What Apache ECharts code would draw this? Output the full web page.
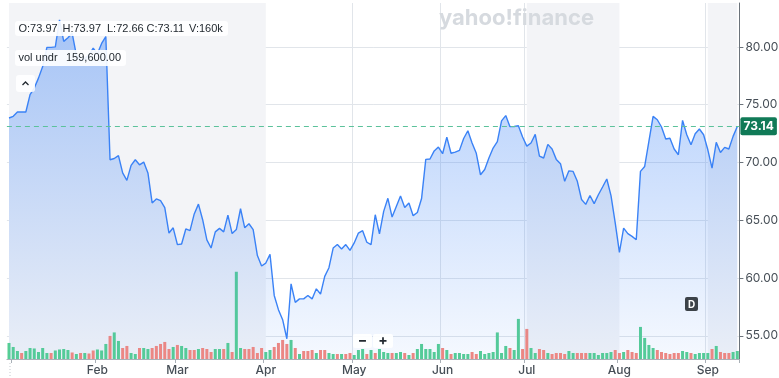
<!DOCTYPE html>
<html>
<head>
<meta charset="utf-8">
<script src="https://cdn.jsdelivr.net/npm/echarts@6/dist/echarts.min.js"></script>
<style>
  html, body { margin: 0; padding: 0; background: #fff; }
  #chart { width: 779px; height: 378px; }
</style>
</head>
<body>
<div id="chart"></div>
<script>
// trading days shown on the chart
const dates = [
  '2024-12-31',
  '2025-01-02','2025-01-03','2025-01-06','2025-01-07','2025-01-08','2025-01-10','2025-01-13','2025-01-14','2025-01-15','2025-01-16',
  '2025-01-17','2025-01-21','2025-01-22','2025-01-23','2025-01-24','2025-01-27','2025-01-28','2025-01-29','2025-01-30','2025-01-31',
  '2025-02-03','2025-02-04','2025-02-05','2025-02-06','2025-02-07','2025-02-10','2025-02-11','2025-02-12','2025-02-13','2025-02-14',
  '2025-02-18','2025-02-19','2025-02-20','2025-02-21','2025-02-24','2025-02-25','2025-02-26','2025-02-27','2025-02-28',
  '2025-03-03','2025-03-04','2025-03-05','2025-03-06','2025-03-07','2025-03-10','2025-03-11','2025-03-12','2025-03-13','2025-03-14',
  '2025-03-17','2025-03-18','2025-03-19','2025-03-20','2025-03-21','2025-03-24','2025-03-25','2025-03-26','2025-03-27','2025-03-28','2025-03-31',
  '2025-04-01','2025-04-02','2025-04-03','2025-04-04','2025-04-07','2025-04-08','2025-04-09','2025-04-10','2025-04-11','2025-04-14',
  '2025-04-15','2025-04-16','2025-04-17','2025-04-21','2025-04-22','2025-04-23','2025-04-24','2025-04-25','2025-04-28','2025-04-29','2025-04-30',
  '2025-05-01','2025-05-02','2025-05-05','2025-05-06','2025-05-07','2025-05-08','2025-05-09','2025-05-12','2025-05-13','2025-05-14',
  '2025-05-15','2025-05-16','2025-05-19','2025-05-20','2025-05-21','2025-05-22','2025-05-23','2025-05-27','2025-05-28','2025-05-29','2025-05-30',
  '2025-06-02','2025-06-03','2025-06-04','2025-06-05','2025-06-06','2025-06-09','2025-06-10','2025-06-11','2025-06-12','2025-06-13',
  '2025-06-16','2025-06-17','2025-06-18','2025-06-20','2025-06-23','2025-06-24','2025-06-25','2025-06-26','2025-06-27','2025-06-30',
  '2025-07-01','2025-07-02','2025-07-03','2025-07-07','2025-07-08','2025-07-09','2025-07-10','2025-07-11','2025-07-14','2025-07-15',
  '2025-07-16','2025-07-17','2025-07-18','2025-07-21','2025-07-22','2025-07-23','2025-07-24','2025-07-25','2025-07-28','2025-07-29','2025-07-30','2025-07-31',
  '2025-08-01','2025-08-04','2025-08-05','2025-08-06','2025-08-07','2025-08-08','2025-08-11','2025-08-12','2025-08-13','2025-08-14',
  '2025-08-15','2025-08-18','2025-08-19','2025-08-20','2025-08-21','2025-08-22','2025-08-25','2025-08-26','2025-08-27','2025-08-28','2025-08-29',
  '2025-09-02','2025-09-03','2025-09-04','2025-09-05','2025-09-08','2025-09-09','2025-09-10','2025-09-11'
];

// daily close
const closes = [
  73.85,
  74.00, 74.37, 74.37, 74.37, 75.87, 76.44, 77.30, 78.30, 79.96, 79.96,
  80.00, 82.35, 80.48, 80.80, 81.20, 79.30, 78.80, 79.00, 79.30, 79.90,
  79.40, 80.30, 80.90, 70.24, 70.35, 70.60, 69.10, 68.45, 69.75, 70.24,
  69.80, 70.04, 69.10, 66.50, 66.85, 66.70, 66.10, 63.90, 64.35,
  62.90, 62.95, 64.25, 64.10, 65.55, 66.40, 65.05, 63.30, 62.60, 64.00,
  64.30, 64.00, 65.45, 63.85, 64.20, 66.00, 64.35, 64.70, 64.20, 61.95, 61.05,
  61.30, 62.05, 58.50, 57.27, 56.40, 54.75, 59.50, 57.90, 58.20, 58.20,
  58.50, 58.20, 59.07, 58.62, 60.15, 60.90, 62.60, 62.90, 62.52, 62.90, 62.40,
  63.04, 63.90, 64.10, 63.10, 62.90, 65.48, 63.82, 65.77, 66.90, 65.28,
  66.20, 67.10, 66.10, 66.50, 65.40, 65.68, 66.88, 70.27, 70.30, 71.00, 71.34,
  70.76, 72.20, 70.80, 70.90, 71.05, 72.08, 72.75, 71.69, 70.80, 68.94,
  69.40, 70.39, 71.25, 71.80, 73.60, 74.06, 73.10, 73.12, 73.18, 72.20,
  71.42, 71.69, 72.43, 70.56, 70.39, 71.57, 71.17, 70.27, 69.90, 68.37,
  69.28, 69.23, 68.37, 66.80, 66.38, 67.15, 66.44, 67.21, 67.88, 68.57, 67.13, 64.77,
  62.22, 64.33, 63.84, 63.61, 63.32, 69.23, 69.66, 71.83, 73.99, 73.70,
  73.07, 72.03, 72.10, 71.17, 70.67, 73.64, 72.40, 71.54, 72.49, 72.90, 72.40,
  71.10, 69.52, 71.74, 70.87, 71.31, 71.17, 72.26, 73.12
];

// daily volume, thousands of shares
const volumes = [
  320,
  240, 160, 120, 160, 220, 210, 140, 220, 120, 120,
  170, 190, 200, 180, 130, 100, 120, 120, 110, 170,
  190, 170, 300, 460, 530, 360, 220, 260, 120, 100,
  220, 220, 200, 220, 260, 300, 340, 200, 240,
  280, 260, 220, 180, 180, 200, 220, 200, 140, 200,
  200, 200, 320, 140, 1740, 220, 200, 200, 240, 120, 220,
  140, 180, 240, 320, 380, 300, 380, 220, 100, 160,
  160, 180, 120, 180, 180, 120, 100, 100, 100, 100, 120,
  80, 180, 200, 100, 180, 120, 200, 140, 120, 120,
  120, 140, 120, 80, 120, 200, 300, 200, 200, 140, 300,
  220, 180, 100, 120, 120, 100, 100, 140, 100, 160,
  100, 120, 140, 530, 120, 260, 220, 180, 800, 200,
  600, 220, 120, 200, 180, 120, 100, 120, 120, 100,
  160, 120, 120, 120, 120, 120, 120, 80, 120, 120, 140, 180,
  120, 140, 180, 140, 120, 640, 420, 280, 220, 180,
  140, 120, 100, 120, 120, 160, 140, 120, 100, 120, 120,
  120, 200, 260, 140, 120, 120, 140, 160
];

// 1 = session closed up (green volume), 0 = down (red volume)
const volUp = [
  1,
  1, 1, 0, 1, 1, 1, 1, 1, 1, 0,
  1, 1, 1, 1, 0, 1, 0, 1, 0, 0,
  1, 1, 1, 0, 1, 1, 0, 0, 1, 1,
  0, 1, 1, 0, 0, 0, 0, 0, 1,
  0, 1, 1, 0, 0, 1, 0, 0, 0, 1,
  1, 0, 1, 0, 1, 1, 0, 0, 0, 0, 0,
  1, 1, 0, 0, 0, 0, 1, 0, 1, 0,
  0, 0, 1, 0, 0, 1, 1, 0, 1, 0, 0,
  1, 1, 1, 0, 1, 0, 1, 1, 1, 0,
  1, 1, 0, 1, 0, 1, 1, 1, 1, 1, 1,
  0, 1, 0, 1, 1, 1, 1, 0, 0, 1,
  1, 1, 1, 1, 1, 1, 0, 1, 1, 0,
  0, 1, 1, 0, 0, 1, 0, 0, 0, 0,
  1, 1, 0, 0, 0, 1, 1, 1, 1, 1, 1, 0,
  0, 1, 0, 0, 0, 1, 1, 1, 1, 0,
  0, 0, 0, 0, 0, 1, 1, 0, 1, 1, 1,
  1, 0, 1, 0, 0, 0, 1, 1
];

const monthNames = ['Jan','Feb','Mar','Apr','May','Jun','Jul','Aug','Sep','Oct','Nov','Dec'];
const shadeBands = [['2024-12-31', '2025-04-01'], ['2025-07-01', '2025-08-01'], ['2025-09-02', '2025-09-11']];
const lastPrice = 73.14;
const ohlcText = ['O:73.97', 'H:73.97', 'L:72.66', 'C:73.11', 'V:160k'];
const indicatorText = ['vol undr', '159,600.00'];

const month = d => +d.slice(5, 7);
const isMonthStart = i => i > 0 && month(dates[i]) !== month(dates[i - 1]);

const GREEN = '#56cf93';
const RED = '#f6877d';
const AXIS_TEXT = '#464e56';
const FONT = 'Inter, "Liberation Sans", sans-serif';
const READOUT_FONT = '"Liberation Sans", Arial, sans-serif';

const chart = echarts.init(document.getElementById('chart'));

const option = {
  animation: false,
  backgroundColor: '#ffffff',
  grid: { left: 6.9, right: 39.6, top: 3, bottom: 19, containLabel: false, outerBoundsMode: 'none' },
  xAxis: {
    type: 'category',
    data: dates,
    boundaryGap: true,
    axisLine: { lineStyle: { color: '#a9b0b7' } },
    axisTick: { show: true, length: 4, interval: (i) => isMonthStart(i), lineStyle: { color: '#a9b0b7' } },
    splitLine: { show: true, interval: (i) => isMonthStart(i), lineStyle: { color: '#e1e5ea' } },
    axisLabel: {
      interval: (i) => isMonthStart(i) && month(dates[i]) !== 1,
      formatter: (v) => monthNames[month(v) - 1],
      color: AXIS_TEXT, fontSize: 12, fontWeight: 500, fontFamily: FONT, margin: 5
    }
  },
  yAxis: [
    {
      type: 'value',
      position: 'right',
      min: 53.0,
      max: 83.8,
      splitNumber: 6,
      minInterval: 5,
      maxInterval: 5,
      axisLine: { show: true, lineStyle: { color: '#6b737b' } },
      axisTick: { show: true, length: 4, lineStyle: { color: '#6b737b' } },
      splitLine: { show: true, showMinLine: false, showMaxLine: false, lineStyle: { color: '#e1e5ea' } },
      axisLabel: {
        showMinLabel: false, showMaxLabel: false,
        formatter: (v) => v.toFixed(2),
        color: AXIS_TEXT, fontSize: 12, fontFamily: FONT, margin: 6
      }
    },
    { type: 'value', show: false, min: 0, max: 7100 }
  ],
  series: [
    {
      name: 'bands',
      type: 'line',
      data: [],
      z: 0,
      silent: true,
      markArea: {
        silent: true,
        z: 0,
        itemStyle: { color: '#f3f4f7' },
        data: shadeBands.map(b => [{ xAxis: b[0] }, { xAxis: b[1] }])
      }
    },
    {
      name: 'Volume',
      type: 'bar',
      yAxisIndex: 1,
      barWidth: 3,
      z: 2,
      data: volumes.map((v, i) => ({ value: v, itemStyle: { color: volUp[i] ? GREEN : RED } }))
    },
    {
      name: 'Close',
      type: 'line',
      data: closes,
      z: 3,
      symbol: 'none',
      lineStyle: { color: '#3a82f6', width: 1.4 },
      areaStyle: {
        origin: 'start',
        color: new echarts.graphic.LinearGradient(0, 0, 0, 1, [
          { offset: 0, color: 'rgba(59,130,246,0.6)' },
          { offset: 1, color: 'rgba(59,130,246,0.07)' }
        ])
      },
      markLine: {
        silent: true,
        symbol: 'none',
        lineStyle: { color: '#5cc29b', type: [5, 4], width: 1 },
        label: {
          position: 'end',
          distance: 1,
          formatter: () => lastPrice.toFixed(2),
          backgroundColor: '#107a57',
          color: '#ffffff',
          fontWeight: 'bold',
          fontSize: 12,
          fontFamily: FONT,
          padding: [3, 3, 3, 3],
          borderRadius: 2
        },
        data: [{ yAxis: lastPrice }]
      }
    }
  ],
  graphic: [
    // watermark
    { type: 'text', x: 439, y: 7, z: 5, silent: true,
      style: { text: 'yahoo!finance', fontSize: 22, fontWeight: 'bold', fontFamily: FONT, fill: '#d6dadf' } },
    // OHLC readout
    { type: 'rect', z: 10, shape: { x: 15, y: 21, width: 213, height: 15, r: 3 }, style: { fill: 'rgba(255,255,255,0.9)' } },
    { type: 'text', z: 11, x: 18.5, y: 28.5, style: { text: ohlcText[0], fontSize: 11, fontFamily: READOUT_FONT, fill: '#232a31', verticalAlign: 'middle' } },
    { type: 'text', z: 11, x: 62.5, y: 28.5, style: { text: ohlcText[1], fontSize: 11, fontFamily: READOUT_FONT, fill: '#232a31', verticalAlign: 'middle' } },
    { type: 'text', z: 11, x: 107, y: 28.5, style: { text: ohlcText[2], fontSize: 11, fontFamily: READOUT_FONT, fill: '#232a31', verticalAlign: 'middle' } },
    { type: 'text', z: 11, x: 146.5, y: 28.5, style: { text: ohlcText[3], fontSize: 11, fontFamily: READOUT_FONT, fill: '#232a31', verticalAlign: 'middle' } },
    { type: 'text', z: 11, x: 189, y: 28.5, style: { text: ohlcText[4], fontSize: 11, fontFamily: READOUT_FONT, fill: '#232a31', verticalAlign: 'middle' } },
    // indicator readout
    { type: 'rect', z: 10, shape: { x: 15, y: 50, width: 111, height: 16, r: 3 }, style: { fill: 'rgba(255,255,255,0.9)' } },
    { type: 'text', z: 11, x: 18.5, y: 58, style: { text: indicatorText[0], fontSize: 11, fontFamily: READOUT_FONT, fill: '#232a31', verticalAlign: 'middle' } },
    { type: 'text', z: 11, x: 66, y: 58, style: { text: indicatorText[1], fontSize: 11, fontFamily: READOUT_FONT, fill: '#232a31', verticalAlign: 'middle' } },
    // collapse button
    { type: 'rect', z: 10, shape: { x: 16, y: 75, width: 19, height: 17, r: 3 }, style: { fill: 'rgba(255,255,255,0.9)' } },
    { type: 'polyline', z: 11, shape: { points: [[22.5, 85], [25.5, 82], [28.5, 85]] }, style: { stroke: '#232a31', lineWidth: 1.3, fill: null } },
    // zoom buttons
    { type: 'rect', z: 10, shape: { x: 353, y: 334, width: 19, height: 14, r: 2 }, style: { fill: 'rgba(255,255,255,0.92)' } },
    { type: 'rect', z: 10, shape: { x: 373, y: 334, width: 20, height: 14, r: 2 }, style: { fill: 'rgba(255,255,255,0.92)' } },
    { type: 'text', z: 11, x: 362.5, y: 341, style: { text: '\u2212', fontSize: 14, fontWeight: 'bold', fontFamily: FONT, fill: '#232a31', align: 'center', verticalAlign: 'middle' } },
    { type: 'text', z: 11, x: 383, y: 341, style: { text: '+', fontSize: 14, fontWeight: 'bold', fontFamily: FONT, fill: '#232a31', align: 'center', verticalAlign: 'middle' } },
    // event marker
    { type: 'rect', z: 10, shape: { x: 685, y: 297, width: 13, height: 14, r: 2 }, style: { fill: '#3c4248' } },
    { type: 'text', z: 11, x: 691.5, y: 304.5, style: { text: 'D', fontSize: 10, fontWeight: 'bold', fontFamily: FONT, fill: '#ffffff', align: 'center', verticalAlign: 'middle' } },
    // clipped first-period marker under the axis
    { type: 'line', z: 5, shape: { x1: 10, y1: 363, x2: 10, y2: 378 }, style: { stroke: '#c3c8ce', lineDash: [1, 2], lineWidth: 1 } }
  ]
};

chart.setOption(option);
</script>
</body>
</html>
